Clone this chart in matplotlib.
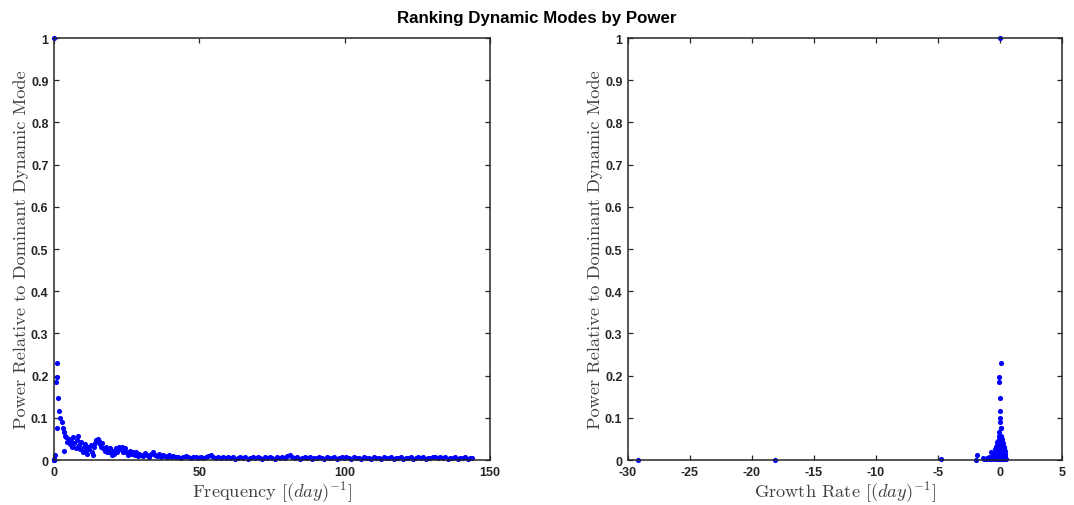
import matplotlib
matplotlib.use('Agg')
import matplotlib.pyplot as plt

# ── Mode data: one entry per dynamic mode ─────────────────────────────────────

frequency = [
    # dominant + strongest modes
    0.0, 0.6, 0.9, 1.1, 1.1, 1.5, 1.8, 2.1, 2.6, 3.0, 3.4, 3.6, 3.8,
    # low-frequency cluster
    4.2, 4.6, 5.0, 5.4, 5.8, 6.2, 6.6, 7.0, 7.4, 7.8,
    8.2, 8.6, 9.0, 9.4, 9.8, 10.2, 10.6, 11.0, 11.4, 11.8,
    12.2, 12.6, 13.0, 13.4, 13.8, 14.2, 14.6, 15.0, 15.4, 15.8,
    16.2, 16.6, 17.0, 17.4, 17.8, 18.2, 18.6, 19.0, 19.4, 19.8,
    20.3, 20.8, 21.3, 21.8, 22.3, 22.8, 23.3, 23.8, 24.3, 24.8,
    25.3, 25.8, 26.3, 26.8, 27.3, 27.8, 28.3, 28.8, 29.3, 29.8,
    30.5, 31.2, 31.9, 32.6, 33.3, 34.0, 34.7, 35.4, 36.1, 36.8,
    37.5, 38.2, 38.9, 39.6,
    # high-frequency tail
    40.3, 41.1, 42.0, 42.8, 43.7, 44.5, 45.4, 46.2, 47.1, 47.9,
    48.8, 49.6, 50.5, 51.3, 52.2, 53.0, 53.9, 54.7, 55.6, 56.4,
    57.3, 58.1, 59.0, 59.8, 60.7, 61.5, 62.4, 63.2, 64.1, 64.9,
    65.8, 66.6, 67.5, 68.3, 69.2, 70.0, 70.9, 71.7, 72.6, 73.4,
    74.3, 75.1, 76.0, 76.8, 77.7, 78.5, 79.4, 80.2, 81.1, 81.9,
    82.8, 83.6, 84.5, 85.3, 86.2, 87.0, 87.9, 88.7, 89.6, 90.4,
    91.3, 92.1, 93.0, 93.8, 94.7, 95.5, 96.4, 97.2, 98.1, 98.9,
    99.8, 100.6, 101.5, 102.3, 103.2, 104.0, 104.9, 105.7, 106.6, 107.4,
    108.3, 109.1, 110.0, 110.8, 111.7, 112.5, 113.4, 114.2, 115.1, 115.9,
    116.8, 117.6, 118.5, 119.3, 120.2, 121.0, 121.9, 122.7, 123.6, 124.4,
    125.3, 126.1, 127.0, 127.8, 128.7, 129.5, 130.4, 131.2, 132.1, 132.9,
    133.8, 134.6, 135.5, 136.3, 137.2, 138.0, 138.9, 139.7, 140.6, 141.4,
    142.3, 143.1, 143.9,
    # fast-decaying modes
    0.0, 0.0, 0.0, 0.4, 0.0,
]

growth = [
    0.00, -0.05, -0.05, 0.08, 0.05, 0.00, 0.00, -0.02, 0.03, 0.10, -0.05, 0.30, 0.12,
    0.10, -0.08, 0.18, 0.02, -0.12, 0.25, 0.05, -0.15, 0.30, 0.12,
    -0.05, 0.20, 0.35, -0.20, 0.08, -0.30, 0.15, 0.40, -0.10, 0.22,
    0.00, -0.25, 0.28, 0.10, -0.35, 0.05, 0.18, -0.08, 0.12, 0.02,
    -0.18, 0.26, 0.08, -0.28, 0.32, 0.14, -0.40, 0.20, 0.06, -0.45,
    0.24, -0.15, 0.36, 0.04, -0.22, 0.16, -0.06, 0.28, -0.32, 0.10,
    0.42, -0.12, 0.20, -0.50, 0.06, 0.30, -0.20, 0.14, -0.60, 0.38,
    0.02, -0.35, 0.22, -0.08, 0.44, -0.70, 0.12, -0.25, 0.34, -0.45,
    0.18, -0.15, 0.26, 0.00,
    -0.10, 0.15, -0.35, 0.05, 0.28, -0.60, 0.10, -0.20, 0.35, -0.05,
    0.20, -0.45, 0.02, 0.30, -0.15, 0.12, -0.02, -0.30, 0.40, -0.08,
    0.18, -0.85, 0.06, -0.25, 0.32, -0.12, 0.45, 0.00, -0.40, 0.22,
    -0.05, 0.38, -1.05, 0.14, -0.18, 0.26, -0.55, 0.08, 0.34, -0.28,
    0.04, -0.70, 0.20, -0.10, 0.42, -0.35, 0.12, 0.02, -0.04, 0.24,
    -0.22, 0.36, -1.25, 0.10, -0.14, 0.30, -0.48, 0.16, -0.02, 0.44,
    -0.32, 0.06, -0.90, 0.22, -0.16, 0.38, -0.62, 0.00, 0.28, -0.08,
    0.14, -0.40, 0.32, -1.15, 0.04, -0.24, 0.40, -0.12, 0.18, -0.78,
    0.26, -0.06, 0.08, -0.52, 0.34, -0.20, 0.12, -0.95, 0.44, -0.30,
    0.02, -0.66, 0.20, -0.10, 0.36, -1.35, 0.06, -0.38, 0.24, -0.14,
    0.16, -0.44, 0.30, -0.04, -0.82, 0.10, -0.26, 0.38, -0.58, 0.22,
    -0.18, 0.04, -1.10, 0.28, -0.34, 0.14, -0.72, 0.42, -0.08, 0.32,
    -0.50, 0.08, -0.22,
    -29.17, -18.17, -4.74, -1.82, -1.95,
]

power = [
    1.000, 0.184, 0.197, 0.229, 0.075, 0.148, 0.116, 0.100, 0.089, 0.077, 0.066, 0.021, 0.058,
    .055, .042, .050, .038, .045, .032, .055, .040, .028, .048,
    .058, .035, .025, .042, .018, .030, .038, .022, .015, .030,
    .025, .035, .020, .012, .030, .040, .047, .050, .045, .038,
    .032, .040, .028, .022, .030, .018, .025, .020, .028, .012,
    .022, .015, .028, .020, .030, .025, .030, .018, .028, .020,
    .012, .018, .022, .015, .020, .012, .018, .010, .015, .012,
    .010, .016, .012, .008, .014, .018, .012, .010, .014, .008,
    .012, .010, .008, .011,
    .007, .009, .006, .008, .005, .007, .009, .006, .004, .008,
    .006, .005, .007, .004, .006, .009, .012, .008, .005, .007,
    .004, .006, .005, .008, .004, .006, .003, .005, .007, .004,
    .006, .003, .005, .008, .004, .006, .005, .003, .006, .004,
    .007, .005, .003, .006, .004, .008, .005, .010, .011, .007,
    .004, .006, .003, .005, .007, .004, .006, .003, .005, .004,
    .007, .005, .003, .006, .004, .005, .007, .003, .005, .006,
    .004, .008, .005, .003, .006, .004, .005, .003, .006, .004,
    .005, .003, .006, .004, .005, .003, .006, .004, .005, .007,
    .003, .005, .004, .006, .003, .005, .004, .006, .003, .005,
    .007, .004, .006, .003, .005, .004, .006, .007, .005, .008,
    .004, .006, .003, .005, .004, .006, .003, .005, .004, .006,
    .003, .005, .004,
    .0008, .0008, .0015, .0126, .0008,
]

y_ticks = [0, 0.1, 0.2, 0.3, 0.4, 0.5, 0.6, 0.7, 0.8, 0.9, 1]
y_tick_labels = ["0", "0.1", "0.2", "0.3", "0.4", "0.5", "0.6", "0.7", "0.8", "0.9", "1"]
freq_ticks = [0, 50, 100, 150]
growth_ticks = [-30, -25, -20, -15, -10, -5, 0, 5]
growth_tick_labels = ["-30", "-25", "-20", "-15", "-10", "-5", "0", "5"]

# ── Style ─────────────────────────────────────────────────────────────────────

plt.rcParams['mathtext.fontset'] = 'cm'
AX_COLOR = '#262626'
TICK_FONT = dict(fontweight='bold', family='Liberation Sans', fontsize=9)
LABEL_FONT = dict(family='cmr10', size=13.2, color='#404040')


def style_axes(ax):
    for spine in ax.spines.values():
        spine.set_color(AX_COLOR)
        spine.set_linewidth(1.1)
    ax.tick_params(direction='in', length=3.8, width=0.9, color=AX_COLOR,
                   top=True, right=True, labelcolor=AX_COLOR, pad=4)
    ax.set_ylim(0, 1)
    ax.set_yticks(y_ticks)
    ax.set_yticklabels(y_tick_labels, **TICK_FONT)
    ax.set_ylabel("Power Relative to Dominant Dynamic Mode", labelpad=1, **LABEL_FONT)


fig = plt.figure(figsize=(10.74, 5.06), dpi=100)
ax1 = fig.add_axes([0.0503, 0.0889, 0.406, 0.834])
ax2 = fig.add_axes([0.5847, 0.0889, 0.4041, 0.834])

# Left: power vs frequency
ax1.plot(frequency, power, 'o', color='blue', markersize=3.7,
         markeredgewidth=0, clip_on=False)
ax1.set_xlim(0, 150)
ax1.set_xticks(freq_ticks)
ax1.set_xticklabels([str(t) for t in freq_ticks], **TICK_FONT)
ax1.set_xlabel(r"Frequency $[(day)^{-1}]$", labelpad=1, **LABEL_FONT)
style_axes(ax1)

# Right: power vs growth rate
ax2.plot(growth, power, 'o', color='blue', markersize=3.7,
         markeredgewidth=0, clip_on=False)
ax2.set_xlim(-30, 5)
ax2.set_xticks(growth_ticks)
ax2.set_xticklabels(growth_tick_labels, **TICK_FONT)
ax2.set_xlabel(r"Growth Rate $[(day)^{-1}]$", labelpad=1, **LABEL_FONT)
style_axes(ax2)

fig.text(0.5, 0.963, "Ranking Dynamic Modes by Power", ha='center',
         va='center', fontsize=12.2, fontweight='bold',
         family='Liberation Sans', color='black')

fig.savefig('out.png', dpi=100)
